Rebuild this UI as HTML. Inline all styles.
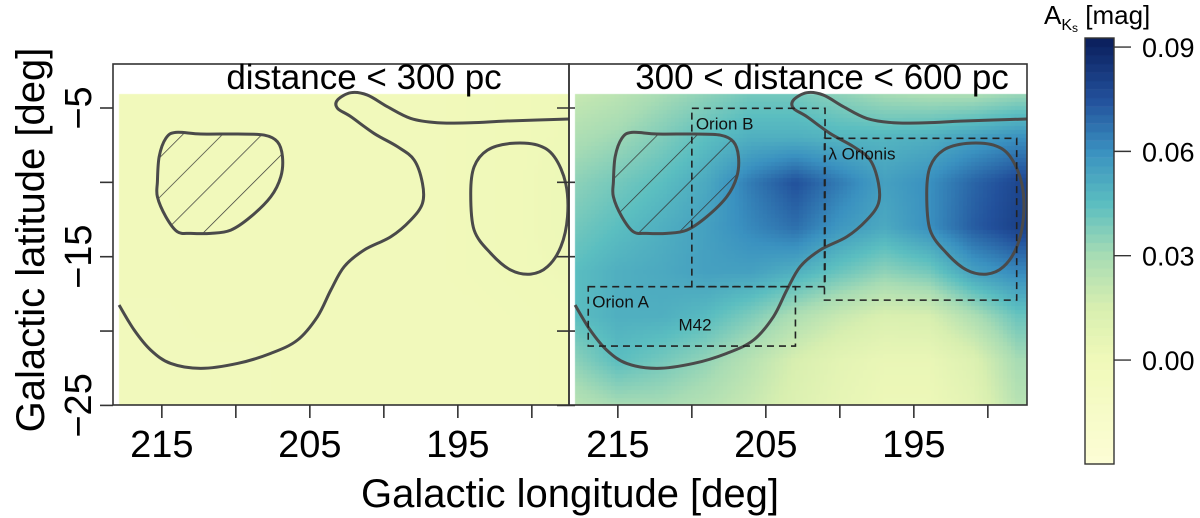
<!DOCTYPE html>
<html><head><meta charset="utf-8"><style>
body{margin:0;background:#fff;}
#wrap{position:relative;width:1200px;height:518px;overflow:hidden;font-family:"Liberation Sans",sans-serif;}
canvas,svg{position:absolute;left:0;top:0;}
</style></head><body>
<div id="wrap">
<canvas id="cv" width="1200" height="518"></canvas>
<svg id="sv" width="1200" height="518"></svg>
</div>
<script>
// ---- data ----
const lonGrid=[218,215,212,209,206,203,200,197,194,191,188];
const latGrid=[-4,-7,-10,-13,-16,-19,-22,-25];
const nearValues=[
[-0.002,-0.002,-0.002,-0.002,-0.002,-0.002,-0.002,-0.002,-0.001,0.000,0.001],
[-0.002,-0.002,-0.002,-0.002,-0.002,-0.002,-0.002,-0.002,-0.001,0.000,0.001],
[-0.002,-0.002,-0.002,-0.002,-0.002,-0.002,-0.002,-0.002,-0.001,0.000,0.002],
[-0.002,-0.002,-0.002,-0.002,-0.002,-0.002,-0.002,-0.002,-0.001,0.000,0.002],
[-0.002,-0.002,-0.002,-0.002,-0.002,-0.002,-0.002,-0.002,-0.001,0.000,0.001],
[-0.003,-0.003,-0.002,-0.002,-0.002,-0.002,-0.002,-0.002,-0.002,-0.001,0.000],
[-0.003,-0.003,-0.003,-0.003,-0.002,-0.002,-0.002,-0.002,-0.002,-0.001,0.000],
[-0.003,-0.003,-0.003,-0.003,-0.002,-0.002,-0.002,-0.002,-0.002,-0.001,0.000]];
const farValues=[
[0.020,0.024,0.030,0.035,0.040,0.040,0.035,0.030,0.028,0.028,0.032],
[0.028,0.032,0.038,0.045,0.050,0.050,0.048,0.048,0.050,0.055,0.060],
[0.035,0.040,0.045,0.052,0.065,0.075,0.065,0.055,0.060,0.070,0.078],
[0.040,0.045,0.050,0.055,0.062,0.068,0.058,0.052,0.060,0.072,0.080],
[0.045,0.050,0.052,0.055,0.055,0.050,0.042,0.035,0.040,0.055,0.062],
[0.045,0.050,0.050,0.046,0.038,0.028,0.020,0.014,0.015,0.028,0.042],
[0.035,0.045,0.040,0.034,0.025,0.015,0.008,0.004,0.004,0.012,0.030],
[0.025,0.030,0.030,0.026,0.020,0.012,0.006,0.002,0.002,0.008,0.025]];
const xTicks=[215,210,205,200,195,190];
const xTickLabels=["215","","205","","195",""];
const yTicks=[-5,-10,-15,-20,-25];
const yTickLabels=["\u22125","","\u221215","","\u221225"];
const cbTicks=[0.09,0.06,0.03,0.00];
const cbTickLabels=["0.09","0.06","0.03","0.00"];
const cloudLon=[217.89,216.87,215.75,214.40,212.37,209.89,207.64,205.84,204.49,203.58,202.68,201.33,199.53,198.18,197.39,197.39,197.95,199.08,200.66,202.23,203.13,203.13,202.23,201.11,199.76,198.18,196.38,194.13,191.87,189.62,187.37];
const cloudLat=[-18.25,-19.93,-21.28,-22.18,-22.51,-22.18,-21.50,-20.61,-19.04,-17.24,-15.67,-14.55,-13.66,-12.53,-11.41,-10.07,-8.50,-7.60,-6.71,-5.58,-5.02,-4.46,-3.97,-4.13,-4.91,-5.70,-5.99,-5.99,-5.88,-5.81,-5.74];
const hatchLon=[215.30,215.18,214.73,214.06,212.37,209.89,208.09,207.19,206.85,206.96,207.64,208.99,210.34,211.69,213.04,213.95,214.73,215.30];
const hatchLat=[-9.96,-8.27,-7.04,-6.64,-6.75,-6.75,-6.82,-7.27,-8.27,-9.62,-10.97,-12.31,-13.21,-13.43,-13.43,-13.32,-12.31,-10.97];
const ovalLon=[194.13,193.90,193.00,191.42,189.62,188.49,187.71,187.59,188.04,188.94,190.07,191.42,192.77,193.90];
const ovalLat=[-10.74,-8.95,-7.83,-7.38,-7.49,-8.27,-10.07,-12.31,-14.33,-15.67,-16.17,-15.90,-14.78,-13.21];
const boxNames=["Orion B","Orion A","\u03bb Orionis"];
const boxLon1=[210.0,217.0,201.04], boxLon2=[201.0,203.0,188.05];
const boxLat1=[-5.02,-17.02,-7.04], boxLat2=[-17.02,-21.01,-17.92];

// ---- axes ----
const PX=14.8, PY=14.87, LON0=218.3;
const panels=[{x0:113,x1:569,hx0:119,title:"distance < 300 pc",tx:364,vals:nearValues,name:"near"},
              {x0:569,x1:1027,hx0:575,title:"300 < distance < 600 pc",tx:822,vals:farValues,name:"far"}];
const yTop=64,yBot=405,hTop=94;
function xs(p,lon){return p.x0+(LON0-lon)*PX;}
function ys(lat){return 108+(-5-lat)*PY;}
const stops=[[-0.03,[253,253,214]],[0.0,[240,249,185]],[0.015,[216,239,176]],[0.03,[168,220,180]],[0.045,[91,190,192]],[0.06,[58,145,192]],[0.075,[34,80,155]],[0.0926,[10,30,90]]];
function cmap(v){if(v<=stops[0][0])return stops[0][1];for(let i=1;i<stops.length;i++){if(v<=stops[i][0]){const a=stops[i-1],b=stops[i],t=(v-a[0])/(b[0]-a[0]);return a[1].map((c,k)=>Math.round(c+(b[1][k]-c)*t));}}return stops[stops.length-1][1];}
function interp(vals,lon,lat){
  let fi=(218-lon)/3, fj=(-4-lat)/3;
  fi=Math.max(0,Math.min(lonGrid.length-1.0001,fi)); fj=Math.max(0,Math.min(latGrid.length-1.0001,fj));
  const i=Math.floor(fi),j=Math.floor(fj),tx=fi-i,ty=fj-j;
  const a=vals[j][i],b=vals[j][i+1],c=vals[j+1][i],d=vals[j+1][i+1];
  return (a*(1-tx)+b*tx)*(1-ty)+(c*(1-tx)+d*tx)*ty;
}
const ctx=document.getElementById('cv').getContext('2d');
const CS=4;
panels.forEach(p=>{
  for(let x=p.hx0;x<p.x1;x+=CS){for(let y=hTop;y<yBot;y+=CS){
    const lon=LON0-(x+CS/2-p.x0)/PX, lat=-5-(y+CS/2-108)/PY;
    const c=cmap(interp(p.vals,lon,lat));
    ctx.fillStyle=`rgb(${c[0]},${c[1]},${c[2]})`;
    ctx.fillRect(x,y,Math.min(CS,p.x1-x),Math.min(CS,yBot-y));
  }}
});
// colorbar
const cbX=1085,cbW=29,cbTop=38,cbBot=464,cbMin=-0.0299,cbMax=0.0926;
const cbY=v=>cbBot-(v-cbMin)/(cbMax-cbMin)*(cbBot-cbTop);
const N=50;
for(let k=0;k<N;k++){const v0=cbMin+(cbMax-cbMin)*k/N,v1=cbMin+(cbMax-cbMin)*(k+1)/N;const c=cmap((v0+v1)/2);
  ctx.fillStyle=`rgb(${c[0]},${c[1]},${c[2]})`;ctx.fillRect(cbX,cbY(v1),cbW,cbY(v0)-cbY(v1)+0.5);}

const NS="http://www.w3.org/2000/svg";
const sv=document.getElementById('sv');
function el(tag,attrs,parent){const e=document.createElementNS(NS,tag);for(const k in attrs)e.setAttribute(k,attrs[k]);(parent||sv).appendChild(e);return e;}
function smooth(pts,closed){
  const n=pts.length;let d=`M${pts[0][0]},${pts[0][1]}`;
  const g=i=>closed?pts[(i+n)%n]:pts[Math.max(0,Math.min(n-1,i))];
  const m=closed?n:n-1;
  for(let i=0;i<m;i++){const p0=g(i-1),p1=g(i),p2=g(i+1),p3=g(i+2);
    d+=` C${p1[0]+(p2[0]-p0[0])/6},${p1[1]+(p2[1]-p0[1])/6} ${p2[0]-(p3[0]-p1[0])/6},${p2[1]-(p3[1]-p1[1])/6} ${p2[0]},${p2[1]}`;}
  return d+(closed?"Z":"");
}
const defs=el('defs',{});
const pat=el('pattern',{id:'hatch',patternUnits:'userSpaceOnUse',width:28,height:28,patternTransform:'rotate(45)'},defs);
el('line',{x1:0,y1:0,x2:0,y2:28,stroke:'#333',"stroke-width":1.4},pat);

panels.forEach((p,pi)=>{
  const g=el('g',{});
  
  
  const clip=el('clipPath',{id:'clip'+pi},defs);
  el('rect',{x:p.x0,y:yTop,width:p.x1-p.x0,height:yBot-yTop},clip);
  const cg=el('g',{'clip-path':`url(#clip${pi})`},g);
  const cloud=el('path',{d:smooth(cloudLon.map((l,i)=>[xs(p,l),ys(cloudLat[i])]),false),fill:'none',stroke:'#4a4a4a','stroke-width':3},cg);
  
  
  const hd=smooth(hatchLon.map((l,i)=>[xs(p,l),ys(hatchLat[i])]),true);
  const hp=el('path',{d:hd,fill:'url(#hatch)',stroke:'#4a4a4a','stroke-width':3},cg);
  
  
  const ov=el('path',{d:smooth(ovalLon.map((l,i)=>[xs(p,l),ys(ovalLat[i])]),true),fill:'none',stroke:'#4a4a4a','stroke-width':3},cg);
  
  
  if(pi===1){
    boxNames.forEach((nm,b)=>{
      const x1=xs(p,boxLon1[b]),x2=xs(p,boxLon2[b]),y1=ys(boxLat1[b]),y2=ys(boxLat2[b]);
      const r=el('rect',{x:x1,y:y1,width:x2-x1,height:y2-y1,fill:'none',stroke:'#222','stroke-width':1.6,'stroke-dasharray':'7,5'},cg);
      
      
      const t=el('text',{x:x1+4,y:y1+21,'font-size':17,fill:'#111'},cg);t.textContent=nm;
      
      
    });
    const m=el('text',{x:xs(p,210.9),y:ys(-19.5)+7,'font-size':17,fill:'#111'},cg);m.textContent="M42";
    
    
  }
  const fr=el('rect',{x:p.x0,y:yTop,width:p.x1-p.x0,height:yBot-yTop,fill:'none',stroke:'#333','stroke-width':1.6},g);
  
  
  const tt=el('text',{x:p.tx,y:89,'font-size':35,'text-anchor':'middle',fill:'#000'},g);tt.textContent=p.title;
  
  
  xTicks.forEach((v,i)=>{
    const x=xs(p,v);
    const tk=el('line',{x1:x,y1:yBot,x2:x,y2:yBot+13,stroke:'#333','stroke-width':1.6},g);
    
    
    if(xTickLabels[i]){const t=el('text',{x:x,y:457,'font-size':38,'text-anchor':'middle'},g);t.textContent=xTickLabels[i];
      
      }
  });
  yTicks.forEach((v,i)=>{
    const y=ys(v);
    const tk=el('line',{x1:p.x0-(pi?12:13),y1:y,x2:p.x0+(pi?6:0),y2:y,stroke:'#333','stroke-width':1.6},g);
    
    
    if(pi===0&&yTickLabels[i]){const t=el('text',{x:0,y:0,'font-size':38,'text-anchor':'middle',transform:`translate(91,${y}) rotate(-90)`},g);t.textContent=yTickLabels[i];
      
      }
  });
});
const xt=el('text',{x:570,y:507,'font-size':40,'text-anchor':'middle'});xt.textContent="Galactic longitude [deg]";


const yt=el('text',{x:0,y:0,'font-size':40,'text-anchor':'middle',transform:'translate(44,240) rotate(-90)'});yt.textContent="Galactic latitude [deg]";


const cbf=el('rect',{x:cbX,y:cbTop,width:cbW,height:cbBot-cbTop,fill:'none',stroke:'#333','stroke-width':1.4});


cbTicks.forEach((v,i)=>{
  const y=cbY(v);
  const l=el('line',{x1:cbX+cbW,y1:y,x2:cbX+cbW+17,y2:y,stroke:'#333','stroke-width':1.4});
  
  
  const t=el('text',{x:1142,y:y+10,'font-size':27});t.textContent=cbTickLabels[i];
  
  
});
const ct=el('text',{x:1044,y:24,'font-size':26});


ct.innerHTML='A<tspan font-size="16" dy="6">K</tspan><tspan font-size="12" dy="2">s</tspan><tspan dy="-8"> [mag]</tspan>';
</script>
</body></html>
